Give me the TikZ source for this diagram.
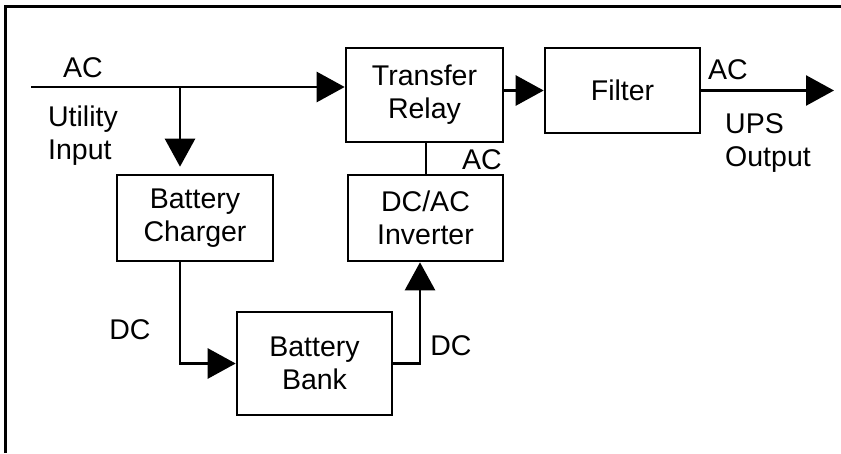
\documentclass[tikz,border=0pt]{standalone}
\usepackage{fontspec}
\setmainfont{Liberation Sans}
\usetikzlibrary{arrows.meta}
\begin{document}
\begin{tikzpicture}[x=1pt,y=-1pt,
  box/.style={draw,line width=2.6pt,inner sep=0pt,align=center,font=\fontsize{28.5}{33}\selectfont},
  lbl/.style={inner sep=0pt,align=left,font=\fontsize{28.5}{33}\selectfont},
  wire/.style={line width=2.6pt},
  arr/.style={line width=2.6pt,-{Triangle[length=28pt,width=30pt]}}]
\useasboundingbox (0,0) rectangle (841,453);
\draw[line width=3pt] (5.5,453) -- (5.5,6) -- (841,6);
% boxes
\node[box,minimum width=156pt,minimum height=86pt] (charger) at (195,218) {Battery\\Charger};
\node[box,minimum width=155pt,minimum height=103pt] (bank) at (314.5,363.5) {Battery\\Bank};
\node[box,minimum width=155pt,minimum height=86pt] (inverter) at (425.5,218) {DC/AC\\Inverter};
\node[box,minimum width=157pt,minimum height=94pt] (relay) at (424.5,95) {Transfer\\Relay};
\node[box,minimum width=155pt,minimum height=85pt] (filter) at (622.5,90.5) {Filter};
% coordinates
\coordinate (in) at (31,87);
\coordinate (j) at (180,87);
\coordinate (out) at (834,90.5);
% connectors
\draw[arr] (in) -- (relay.west |- in);
\draw[arr,shorten >=7pt] (j) -- (j |- charger.north);
\draw[arr] (charger.south -| j) |- (bank.west);
\draw[arr] (bank.east) -| (inverter.south -| 420,0);
\draw[wire] (relay.south -| 426,0) -- (inverter.north -| 426,0);
\draw[arr] (relay.east |- 0,90.5) -- (filter.west);
\draw[arr] (filter.east) -- (out);
% labels
\node[lbl] (lac1) at (83,68) {AC};
\node[lbl] (lutil) at (83,136) {Utility\\Input};
\node[lbl] (lac2) at (482,160) {AC};
\node[lbl] (lac3) at (728,70) {AC};
\node[lbl] (lups) at (768,143) {UPS\\Output};
\node[lbl] (ldc1) at (130,330) {DC};
\node[lbl] (ldc2) at (451,346) {DC};
\end{tikzpicture}
\end{document}
